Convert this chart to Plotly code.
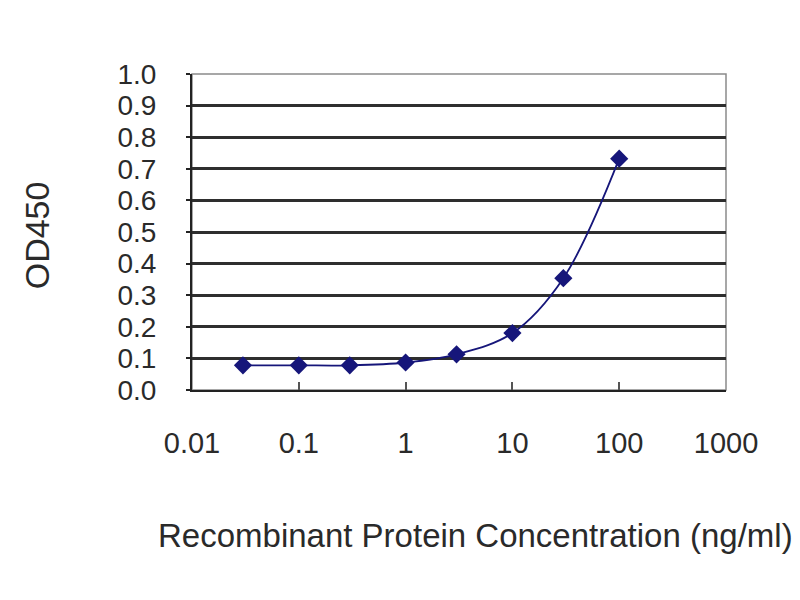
import plotly.graph_objects as go

concentration = [0.03, 0.1, 0.3, 1, 3, 10, 30, 100]
od450 = [0.078, 0.078, 0.078, 0.087, 0.113, 0.180, 0.354, 0.732]

x_tickvals = [0.01, 0.1, 1, 10, 100, 1000]
x_ticktext = ["0.01", "0.1", "1", "10", "100", "1000"]
y_tickvals = [0.0, 0.1, 0.2, 0.3, 0.4, 0.5, 0.6, 0.7, 0.8, 0.9, 1.0]
y_ticktext = ["0.0", "0.1", "0.2", "0.3", "0.4", "0.5", "0.6", "0.7", "0.8", "0.9", "1.0"]

navy = "#16167a"
font_family = "Liberation Sans, Arial, sans-serif"

fig = go.Figure()
fig.add_trace(go.Scatter(
    x=concentration, y=od450,
    mode="lines+markers",
    line=dict(color=navy, width=1.8, shape="spline", smoothing=1.0),
    marker=dict(symbol="diamond", size=14, color=navy),
    showlegend=False,
))

fig.update_layout(
    width=792, height=592,
    margin=dict(l=184, r=74, t=66, b=210),
    paper_bgcolor="#ffffff",
    plot_bgcolor="#ffffff",
    font=dict(family=font_family, color="#2a2a2a"),
    shapes=[dict(type="rect", xref="paper", yref="paper", x0=0, x1=1, y0=0, y1=1,
                 line=dict(color="#8a8a8a", width=1.5), layer="below")],
    annotations=[
        dict(text="Recombinant Protein Concentration (ng/ml)", xref="paper", yref="paper",
             x=0.53, y=-0.459, xanchor="center", yanchor="middle", showarrow=False,
             font=dict(size=33, family=font_family, color="#2a2a2a")),
        dict(text="OD450", xref="paper", yref="paper", x=-0.290, y=0.49,
             xanchor="center", yanchor="middle", textangle=-90, showarrow=False,
             font=dict(size=34, family=font_family, color="#2a2a2a")),
    ],
)

fig.update_xaxes(
    type="log", range=[-2, 3],
    tickvals=x_tickvals, ticktext=x_ticktext,
    tickfont=dict(size=29),
    ticks="inside", ticklen=8, tickcolor="#555", tickwidth=1.5,
    showgrid=False, zeroline=False,
    showline=True, linecolor="#222", linewidth=2,
    ticklabelstandoff=26,
)
fig.update_yaxes(
    range=[0, 1.0],
    tickvals=y_tickvals, ticktext=y_ticktext,
    tickfont=dict(size=28),
    ticks="outside", ticklen=4, tickcolor="#222", tickwidth=1.5,
    showgrid=True, gridcolor="#2e2e2e", gridwidth=2.5,
    zeroline=False,
    showline=True, linecolor="#222", linewidth=2,
    ticklabelstandoff=24,
)

fig.write_html("out.html")
